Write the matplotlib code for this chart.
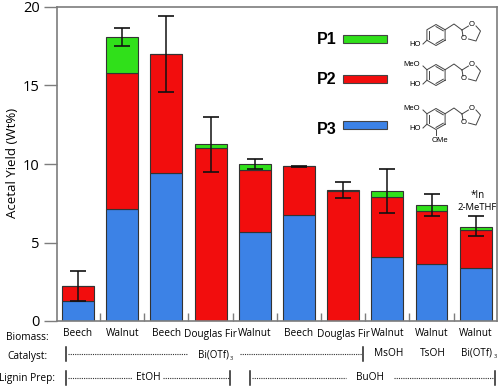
import matplotlib
matplotlib.use('Agg')
import matplotlib.pyplot as plt
import numpy as np
from matplotlib.patches import Rectangle

biomass = ['Beech', 'Walnut', 'Beech', 'Douglas Fir', 'Walnut', 'Beech', 'Douglas Fir', 'Walnut', 'Walnut', 'Walnut']
p3 = [1.3, 7.15, 9.4, 0, 5.65, 6.75, 0, 4.05, 3.65, 3.35]
p2 = [0.9, 8.65, 7.6, 11.0, 3.95, 3.1, 8.25, 3.85, 3.35, 2.45]
p1 = [0, 2.3, 0, 0.25, 0.4, 0.05, 0.1, 0.4, 0.4, 0.2]
err_low = [1.25, 17.5, 14.6, 9.5, 9.65, 9.8, 7.85, 6.9, 6.7, 5.4]
err_high = [3.2, 18.65, 19.4, 13.0, 10.3, 9.9, 8.85, 9.7, 8.1, 6.7]

RED = '#f20d0d'
GREEN = '#30e01a'
BLUE = '#3c82e6'
GRAY = '#7d7d7d'
FONT = 'Open Sans'

plt.rcParams['font.family'] = FONT

fig = plt.figure(figsize=(5.01, 3.87), dpi=100)
ax = fig.add_axes([57 / 501, 1 - 321 / 387, 440 / 501, 314 / 387])

# stacked bars
x = np.arange(len(biomass))
p3 = np.array(p3)
p2 = np.array(p2)
p1 = np.array(p1)
ax.bar(x, p3, 0.72, color=BLUE, edgecolor='#333333', linewidth=0.8)
ax.bar(x, p2, 0.72, bottom=p3, color=RED, edgecolor='#333333', linewidth=0.8)
ax.bar(x, p1, 0.72, bottom=p3 + p2, color=GREEN, edgecolor='#333333', linewidth=0.8)

totals = p3 + p2 + p1
low = totals - np.array(err_low)
high = np.array(err_high) - totals
ax.errorbar(x, totals, yerr=[np.abs(low), np.abs(high)], fmt='none', ecolor='#111111',
            elinewidth=1.1, capsize=6, capthick=1.2)

ax.set_xlim(-0.475, 9.48)
ax.set_ylim(0, 20)
ax.set_yticks([0, 5, 10, 15, 20])
ax.set_xticks(x[:-1] + 0.5)
ax.set_xticklabels([])
ax.tick_params(axis='x', direction='in', length=5.5, width=1, color=GRAY)
ax.tick_params(axis='y', direction='out', length=9.5, width=1, color=GRAY, labelsize=10.5, pad=3)
for s in ax.spines.values():
    s.set_color(GRAY)
    s.set_linewidth(1.2)

# everything below is placed in image pixels
ov = fig.add_axes([0, 0, 1, 1])
ov.set_xlim(0, 501)
ov.set_ylim(387, 0)
ov.axis('off')
ov.patch.set_alpha(0)

ov.text(13, 163, 'Acetal Yield (Wt%)', rotation=90, ha='center', va='center', fontsize=9.5)

for i, name in enumerate(biomass):
    ov.text(78 + 44.2 * i, 334, name, ha='center', va='center', fontsize=7.3)
for label, y in [('Biomass:', 338), ('Catalyst:', 357), ('Lignin Prep:', 378)]:
    ov.text(27, y, label, ha='center', va='center', fontsize=7.3)


def dots(x0, x1, y):
    ov.plot([x0, x1], [y, y], color='#333333', lw=0.8, ls=(0, (1, 1)))


def bar_tick(px, y):
    ov.plot([px, px], [y - 7, y + 7], color='#222222', lw=1.1)


bar_tick(66, 354)
dots(68, 188, 354)
ov.text(214, 355, 'Bi(OTf)', ha='center', va='center', fontsize=7)
ov.text(231.5, 358, '3', ha='center', va='center', fontsize=4)
dots(240, 362, 354)
bar_tick(363.5, 354)
ov.text(389, 354, 'MsOH', ha='center', va='center', fontsize=7.3)
ov.text(433, 354, 'TsOH', ha='center', va='center', fontsize=7.3)
ov.text(477, 353, 'Bi(OTf)', ha='center', va='center', fontsize=7)
ov.text(495, 356, '3', ha='center', va='center', fontsize=4)

bar_tick(66, 378)
dots(68, 132, 378)
ov.text(148, 378, 'EtOH', ha='center', va='center', fontsize=7.3)
dots(163, 229, 378)
bar_tick(230, 378)
bar_tick(250, 378)
dots(252, 346, 378)
ov.text(370, 378, 'BuOH', ha='center', va='center', fontsize=7.3)
dots(394, 494, 378)
bar_tick(495, 378)

ov.text(478, 195, '*In', ha='center', va='center', fontsize=7)
ov.text(477, 208, '2-MeTHF', ha='center', va='center', fontsize=6.8)

# legend
for name, color, ty, ry in [('P1', GREEN, 39, 35), ('P2', RED, 79, 74.5), ('P3', BLUE, 129, 120.5)]:
    ov.text(327, ty, name, ha='center', va='center', fontsize=11.5, fontweight='bold',
            family='Liberation Sans')
    ov.add_patch(Rectangle((343.5, ry), 44, 8.3, facecolor=color, edgecolor='#444444', lw=0.8))


# molecule line drawings
def molecule(cy, subs):
    cx = 436
    r = 10.5
    ang = np.radians(np.arange(6) * 60 + 30)
    hx = cx + r * np.cos(ang)
    hy = cy + r * np.sin(ang)
    kw = dict(color='#444444', lw=0.7)
    ov.plot(np.append(hx, hx[0]), np.append(hy, hy[0]), **kw)
    for a, b in [(0, 1), (2, 3), (4, 5)]:
        ov.plot([cx + (hx[a] - cx) * 0.8, cx + (hx[b] - cx) * 0.8],
                [cy + (hy[a] - cy) * 0.8, cy + (hy[b] - cy) * 0.8], **kw)
    ov.plot([hx[5], 454, 462], [hy[5], cy - 11, cy - 5], **kw)
    ov.plot([462, 468.5], [cy - 5, cy - 9], **kw)
    ov.plot([462, 463], [cy - 5, cy + 1], **kw)
    ov.plot([476, 480.5, 476, 468.5], [cy - 9, cy - 4, cy + 6, cy + 4], **kw)
    ov.text(472, cy - 11, 'O', ha='center', va='center', fontsize=5.5, family='Liberation Sans')
    ov.text(464, cy + 4, 'O', ha='center', va='center', fontsize=5.5, family='Liberation Sans')
    ov.plot([hx[2], 423], [hy[2], cy + 9], **kw)
    ov.text(415, cy + 10, 'HO', ha='center', va='center', fontsize=5.5, family='Liberation Sans')
    if 'meo' in subs:
        ov.plot([hx[3], 423], [hy[3], cy - 9], **kw)
        ov.text(412, cy - 10, 'MeO', ha='center', va='center', fontsize=5.5, family='Liberation Sans')
    if 'ome' in subs:
        ov.plot([hx[1], 436], [hy[1], cy + 16], **kw)
        ov.text(440, cy + 22, 'OMe', ha='center', va='center', fontsize=5.5, family='Liberation Sans')


molecule(35, [])
molecule(75, ['meo'])
molecule(119, ['meo', 'ome'])

fig.savefig('out.png', dpi=100)
